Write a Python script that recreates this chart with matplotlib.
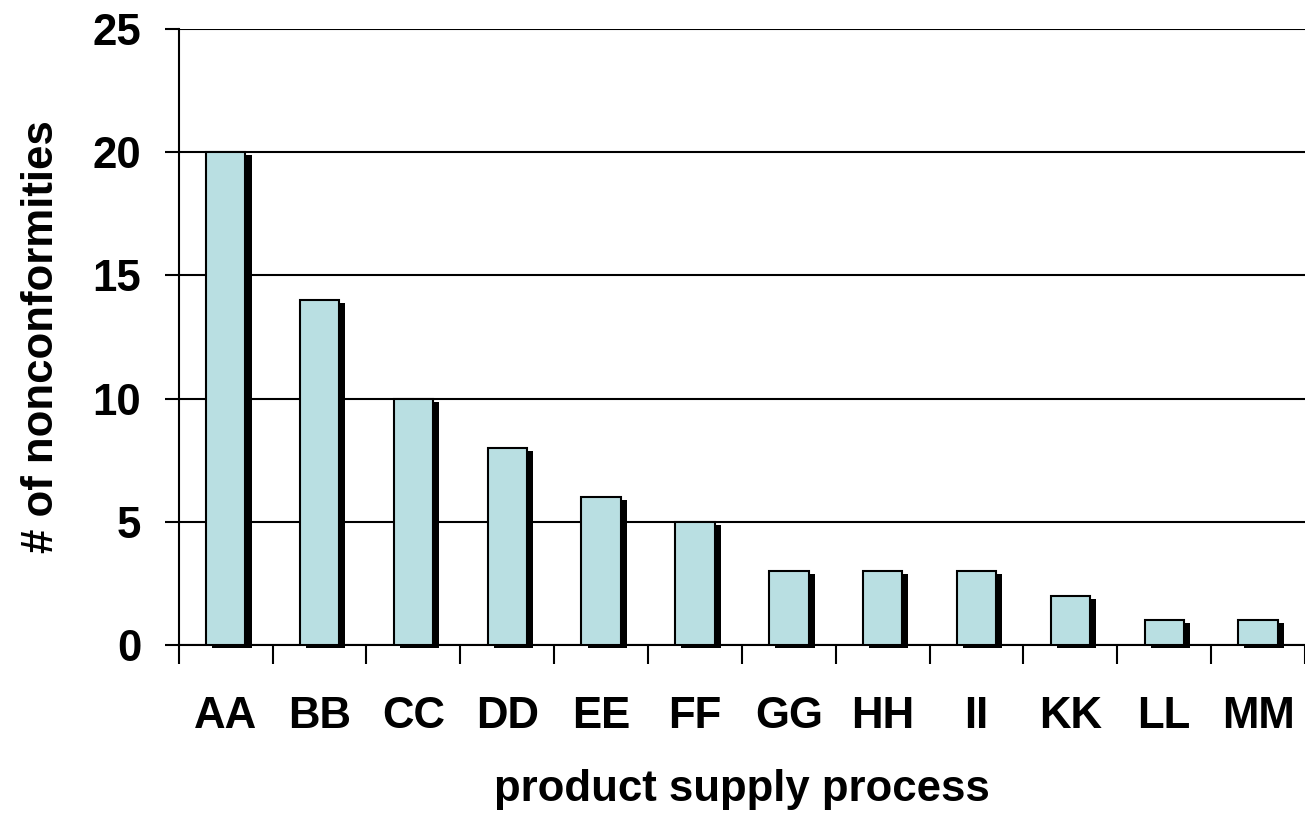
import numpy as np
import matplotlib.pyplot as plt
from matplotlib.ticker import FixedLocator, NullFormatter

plt.rcParams['font.family'] = ['Liberation Sans', 'DejaVu Sans']
plt.rcParams['font.weight'] = 'bold'

processes = ['AA', 'BB', 'CC', 'DD', 'EE', 'FF', 'GG', 'HH', 'II', 'KK', 'LL', 'MM']
nonconformities = [20, 14, 10, 8, 6, 5, 3, 3, 3, 2, 1, 1]

fig = plt.figure(figsize=(13.05, 8.18), dpi=100)
ax = fig.add_axes([0.137, 0.2115, 0.863, 0.753])

x = np.arange(len(processes))
width = 0.42
# drop shadow behind each bar
ax.bar(x + 0.065, nonconformities, width=width, bottom=-0.12,
       color='black', edgecolor='none', zorder=2, clip_on=False)
ax.bar(x, nonconformities, width=width, color='#B9DFE2', edgecolor='black',
       linewidth=1.5, zorder=3)

ax.set_xlim(-0.5, len(processes) - 0.5)
ax.set_ylim(0, 25)
ax.set_yticks([0, 5, 10, 15, 20, 25])
ax.yaxis.grid(True, color='black', linewidth=1.5)
ax.set_axisbelow(True)

ax.set_xticks(x)
ax.set_xticklabels(processes)
ax.xaxis.set_minor_locator(FixedLocator(np.arange(len(processes) + 1) - 0.5))
ax.xaxis.set_minor_formatter(NullFormatter())
ax.tick_params(axis='x', which='major', length=0, pad=37, labelsize=31.5)
ax.tick_params(axis='x', which='minor', length=14, width=1.5, direction='out')
ax.tick_params(axis='y', length=10, width=1.5, labelsize=31.5, pad=17)

for side in ['top', 'right']:
    ax.spines[side].set_visible(False)
for side in ['left', 'bottom']:
    ax.spines[side].set_linewidth(1.5)

ax.set_xlabel('product supply process', fontsize=31.5, fontweight='bold', labelpad=23)
ax.set_ylabel('# of nonconformities', fontsize=31.5, fontweight='bold', labelpad=22)

fig.savefig('out.png', dpi=100)
